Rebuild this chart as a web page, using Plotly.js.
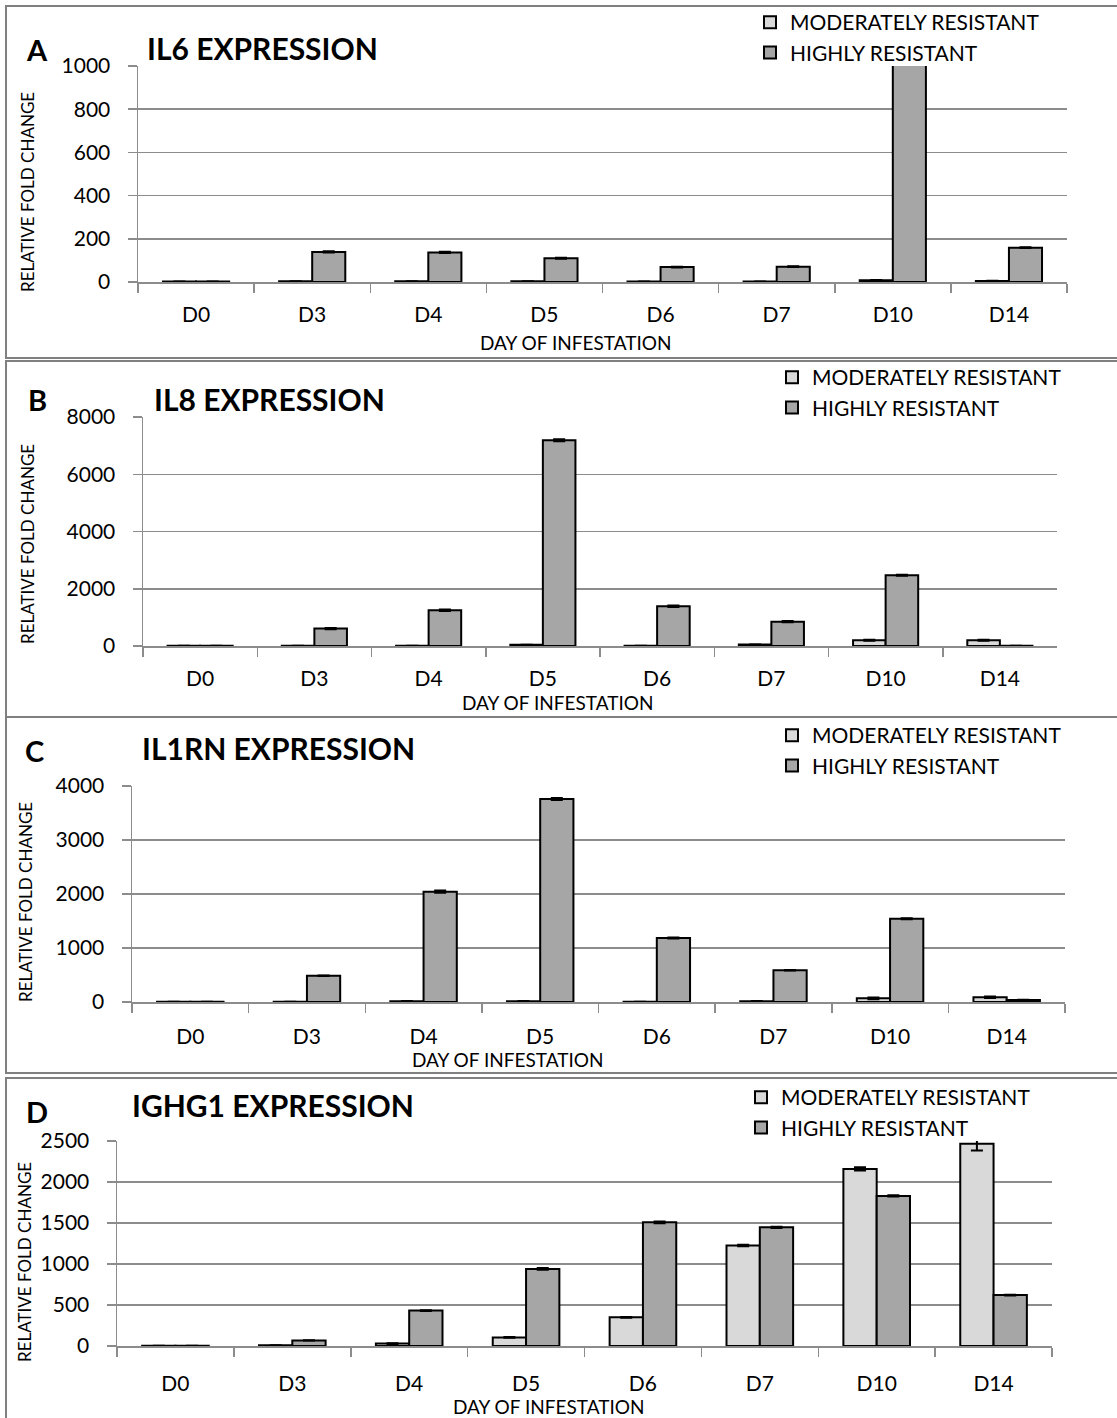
<!DOCTYPE html>
<html><head><meta charset="utf-8">
<script src="https://cdn.plot.ly/plotly-3.0.1.min.js"></script>
<style>html,body{margin:0;padding:0;background:#fff}</style>
</head><body><div id="chart" style="width:1117px;height:1418px"></div>
<script>
// ---------- DATA ----------
const days = ['D0', 'D3', 'D4', 'D5', 'D6', 'D7', 'D10', 'D14'];
const seriesNames = ['MODERATELY RESISTANT', 'HIGHLY RESISTANT'];
const panelTitles = ['IL6 EXPRESSION', 'IL8 EXPRESSION', 'IL1RN EXPRESSION', 'IGHG1 EXPRESSION'];
const panelLetters = ['A', 'B', 'C', 'D'];
const yTitle = 'RELATIVE FOLD CHANGE';
const xTitle = 'DAY OF INFESTATION';

const il6MR   = [2, 3, 3, 3, 2, 2, 8, 5];
const il6HR   = [2, 139, 137, 110, 69, 71, 1100, 159];
const il6MRe  = [0.5, 0.5, 0.5, 0.5, 0.5, 0.5, 1, 1];
const il6HRe  = [0.5, 3, 3, 2, 2, 2, 10, 2];

const il8MR   = [5, 8, 10, 40, 10, 50, 200, 200];
const il8HR   = [5, 608, 1247, 7185, 1387, 851, 2470, 10];
const il8MRe  = [2, 2, 2, 5, 2, 5, 20, 20];
const il8HRe  = [2, 25, 25, 35, 25, 25, 15, 2];

const il1rnMR  = [3, 5, 15, 15, 5, 15, 68, 87];
const il1rnHR  = [5, 487, 2043, 3759, 1185, 587, 1543, 37];
const il1rnMRe = [1, 1, 5, 5, 1, 5, 15, 15];
const il1rnHRe = [1, 5, 20, 20, 10, 5, 10, 5];

const ighg1MR  = [3, 8, 30, 105, 350, 1225, 2159, 2465];
const ighg1HR  = [3, 68, 432, 940, 1508, 1447, 1830, 621];
const ighg1MRe = [1, 1, 5, 5, 5, 10, 20, 80];
const ighg1HRe = [1, 2, 5, 10, 10, 8, 8, 5];

const yMax  = [1000, 8000, 4000, 2500];
const yStep = [200, 2000, 1000, 500];

// ---------- LAYOUT GEOMETRY (pixels) ----------
const W = 1117, H = 1418;
const px = p => p / W;
const py = p => 1 - p / H;

const geo = [
  {l:138, r:1067, t:66,  b:282,  box:[6,6,1120,358],     letter:[37,49],  title:[145,48],  yt:[27,192],  xt:[575,343],  leg:[750,2],    std:13},
  {l:143, r:1057, t:417, b:646,  box:[6,361,1120,717],   letter:[38,399], title:[152,399], yt:[27,544],  xt:[557,702],  leg:[772,357],  std:13},
  {l:132, r:1065, t:786, b:1002, box:[6,717,1120,1073],  letter:[34,751], title:[140,748], yt:[25,902],  xt:[507,1059], leg:[772,715],  std:15},
  {l:117, r:1052, t:1141,b:1346, box:[6,1078,1120,1440], letter:[37,1111],title:[130,1105],yt:[24,1262], xt:[548,1406], leg:[741,1077], std:18}
];

const data = [
  [il6MR, il6HR, il6MRe, il6HRe],
  [il8MR, il8HR, il8MRe, il8HRe],
  [il1rnMR, il1rnHR, il1rnMRe, il1rnHRe],
  [ighg1MR, ighg1HR, ighg1MRe, ighg1HRe]
];

const colors = ['#d9d9d9', '#a6a6a6'];
const gridC = '#8c8c8c';
const FONT = 'Lato, "Open Sans", sans-serif';

const traces = [];
const layout = {
  width: W, height: H,
  margin: {l:0, r:0, t:0, b:0},
  paper_bgcolor: '#fff', plot_bgcolor: '#fff',
  font: {family: FONT, color: '#000', size: 21},
  barmode: 'group', bargap: 0.43, bargroupgap: 0,
  showlegend: true,
  annotations: [], shapes: []
};

geo.forEach((g, i) => {
  const n = i === 0 ? '' : String(i + 1);
  const xa = 'x' + n, ya = 'y' + n;
  const legName = 'legend' + n;
  [0, 1].forEach(s => {
    traces.push({
      type: 'bar', x: days, y: data[i][s], name: seriesNames[s],
      xaxis: xa, yaxis: ya, legend: legName,
      marker: {color: colors[s], line: {color: '#000', width: 2}},
      error_y: {type: 'data', array: data[i][s + 2], visible: true, color: '#000', thickness: 2, width: 6},
      hoverinfo: 'skip'
    });
  });
  layout['xaxis' + n] = {
    domain: [px(g.l), px(g.r)], anchor: ya,
    type: 'category', tickson: 'boundaries', ticks: 'outside', ticklen: 9, tickwidth: 1.5, tickcolor: gridC,
    showline: true, linecolor: gridC, linewidth: 1.5, showgrid: false, zeroline: false,
    tickfont: {size: 21}, ticklabelstandoff: g.std, fixedrange: true
  };
  layout['yaxis' + n] = {
    domain: [py(g.b), py(g.t)], anchor: xa,
    range: [0, yMax[i]], dtick: yStep[i], tick0: 0,
    ticks: 'outside', ticklen: 9, tickwidth: 1.5, tickcolor: gridC,
    showline: true, linecolor: gridC, linewidth: 1.5,
    showgrid: true, gridcolor: gridC, gridwidth: 1.5, zeroline: false,
    tickfont: {size: 21}, ticklabelstandoff: 13, fixedrange: true
  };
  layout[legName] = {
    x: px(g.leg[0]), y: py(g.leg[1]), xanchor: 'left', yanchor: 'top',
    xref: 'paper', yref: 'paper', orientation: 'v',
    bgcolor: 'rgba(0,0,0,0)', borderwidth: 0, font: {size: 21},
    traceorder: 'normal'
  };
  layout.shapes.push({type: 'rect', xref: 'paper', yref: 'paper',
    x0: px(g.box[0]), x1: px(g.box[2]), y0: py(g.box[3]), y1: py(g.box[1]),
    line: {color: '#808080', width: 2}, fillcolor: 'rgba(0,0,0,0)', layer: 'below'});
  layout.annotations.push(
    {text: '<b>' + panelLetters[i] + '</b>', x: px(g.letter[0]), y: py(g.letter[1]), xref: 'paper', yref: 'paper',
     xanchor: 'center', yanchor: 'middle', showarrow: false, font: {size: 29}},
    {text: '<b>' + panelTitles[i] + '</b>', x: px(g.title[0]), y: py(g.title[1]), xref: 'paper', yref: 'paper',
     xanchor: 'left', yanchor: 'middle', showarrow: false, font: {size: 30}},
    {text: yTitle, x: px(g.yt[0]), y: py(g.yt[1]), xref: 'paper', yref: 'paper', textangle: -90,
     xanchor: 'center', yanchor: 'middle', showarrow: false, font: {size: 17}},
    {text: xTitle, x: px(g.xt[0]), y: py(g.xt[1]), xref: 'paper', yref: 'paper',
     xanchor: 'center', yanchor: 'middle', showarrow: false, font: {size: 19}}
  );
});

Plotly.newPlot('chart', traces, layout, {displayModeBar: false, staticPlot: true});
</script>
</body></html>
